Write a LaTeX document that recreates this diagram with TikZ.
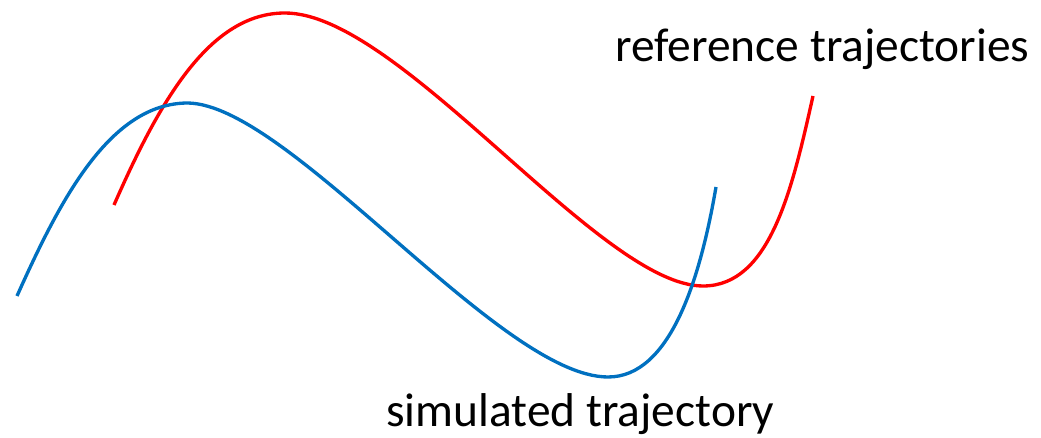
\documentclass[tikz,border=0pt]{standalone}
\usepackage{fontspec}
\setmainfont{Carlito}
\usetikzlibrary{positioning}
\definecolor{simblue}{RGB}{0,112,192}
\definecolor{refred}{RGB}{255,0,0}

\begin{document}
\begin{tikzpicture}[x=0.02cm,y=-0.02cm,
  traj/.style={line width=1.9pt},
  lbl/.style={font=\fontsize{27}{32}\selectfont,inner sep=0pt,anchor=base west}]
\useasboundingbox (0,0) rectangle (1041,438);
% reference trajectory
\draw[traj,refred] (114,205) .. controls (160,100) and (210,13) .. (285,13)
  .. controls (400,13) and (600,286) .. (703,286)
  .. controls (770,286) and (792,190) .. (813,96);
% simulated trajectory
\draw[traj,simblue] (17,296) .. controls (60,200) and (110,103) .. (188,103)
  .. controls (290,105) and (500,377) .. (608,377)
  .. controls (670,377) and (700,280) .. (716,187);
\node[lbl] (reflabel) at (615,62) {reference trajectories};
\node[lbl] (simlabel) at (386,427) {simulated trajectory};
\end{tikzpicture}
\end{document}
